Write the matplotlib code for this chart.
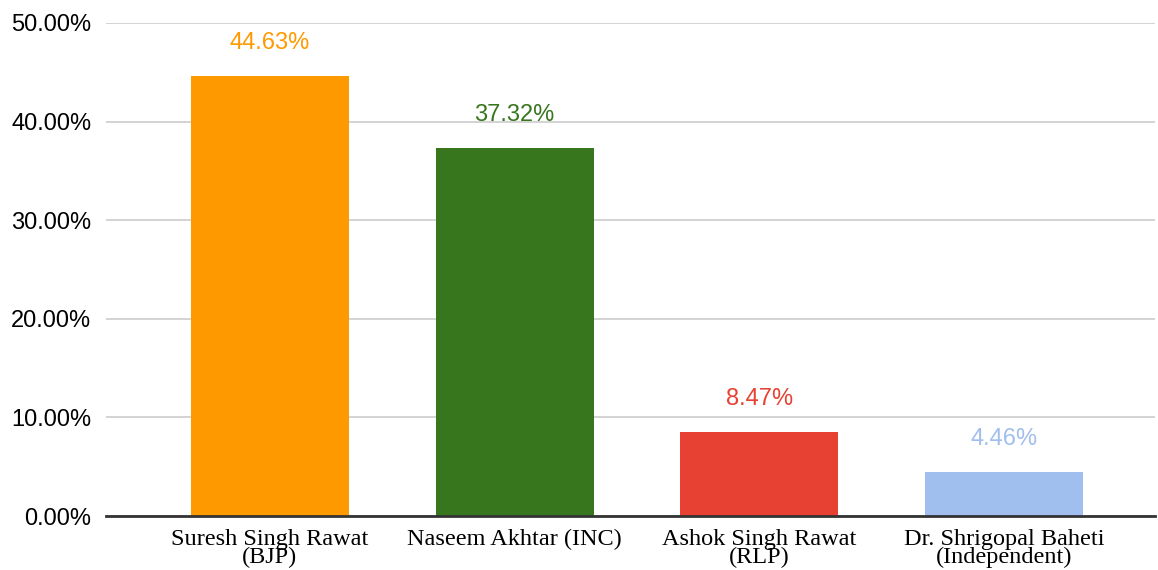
"""Vote share bar chart."""
import matplotlib
matplotlib.use('Agg')
import matplotlib.pyplot as plt
from matplotlib.ticker import FuncFormatter

candidates = ['Suresh Singh Rawat\n(BJP)', 'Naseem Akhtar (INC)',
              'Ashok Singh Rawat\n(RLP)', 'Dr. Shrigopal Baheti\n(Independent)']
shares = [44.63, 37.32, 8.47, 4.46]
colors = ['#FF9900', '#38761D', '#E64133', '#A0BEEE']
yticks = [0, 10, 20, 30, 40, 50]

fig = plt.figure(figsize=(11.58, 5.70), dpi=100)
ax = fig.add_axes([0.0915, 0.0947, 0.906, 0.865])

x = range(len(shares))
ax.bar(x, shares, width=0.645, color=colors, zorder=3)

for i, v in enumerate(shares):
    ax.annotate(f'{v:.2f}%', (i, v), xytext=(0, 24), textcoords='offset points',
                ha='center', va='center', color=colors[i],
                fontsize=17, family='Liberation Sans')

ax.set_ylim(0, 50)
ax.set_xlim(-0.67, 3.617)
ax.set_yticks(yticks)
ax.yaxis.set_major_formatter(FuncFormatter(lambda v, p: f'{v:.2f}%'))
ax.grid(axis='y', color='#cccccc', linewidth=1.2, zorder=0)
ax.set_xticks(list(x))
ax.set_xticklabels(candidates, family='Liberation Serif', fontsize=17.5,
                   linespacing=0.85)

for lbl in ax.get_yticklabels():
    lbl.set_family('Liberation Sans')
    lbl.set_fontsize(17)

for s in ['top', 'right', 'left']:
    ax.spines[s].set_visible(False)
ax.spines['bottom'].set_color('#333333')
ax.spines['bottom'].set_linewidth(2)
ax.spines['bottom'].set_zorder(4)
ax.tick_params(axis='both', length=0)
ax.tick_params(axis='x', pad=9)
ax.tick_params(axis='y', pad=10.5)

plt.savefig('out.png', dpi=100)
